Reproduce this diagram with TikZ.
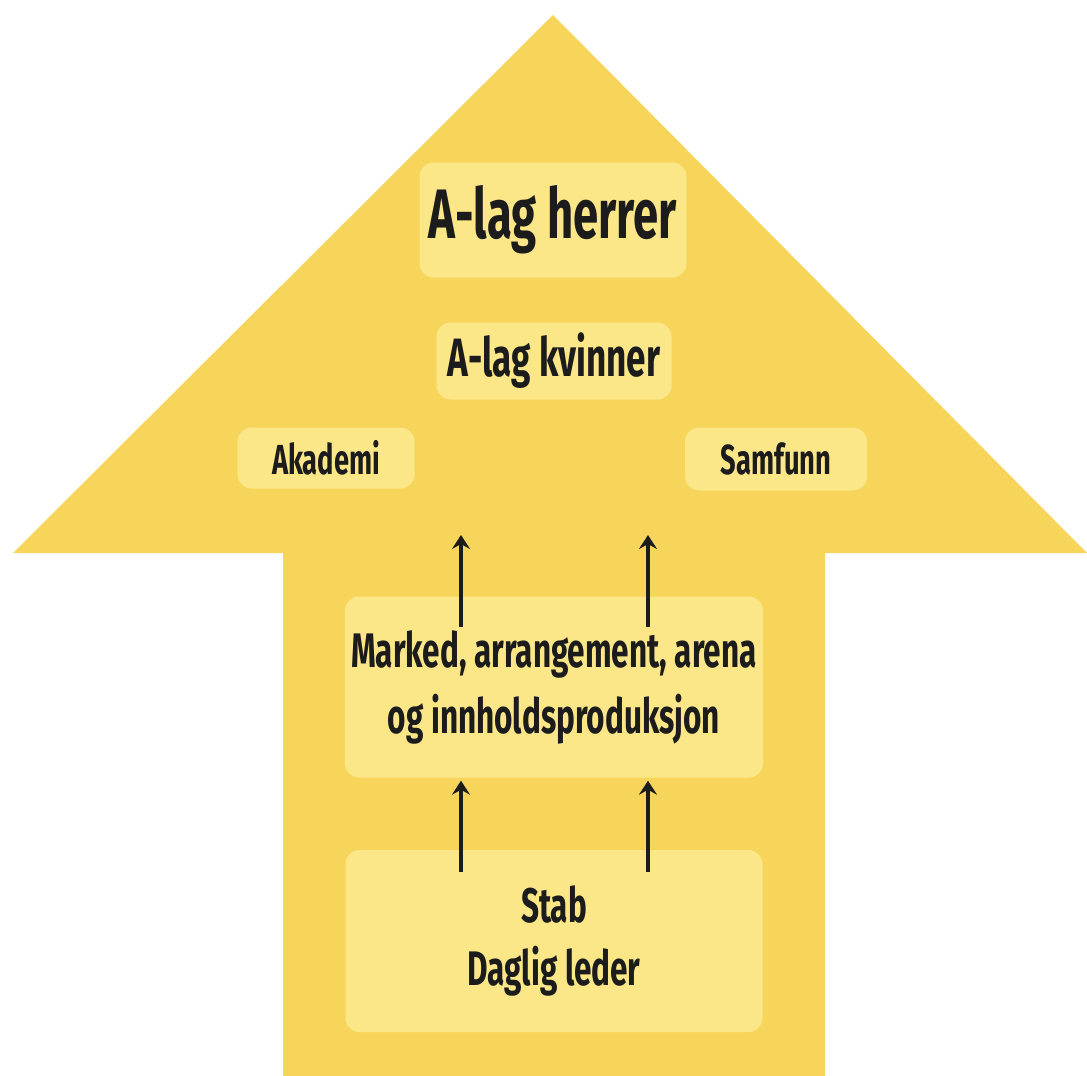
\documentclass[tikz,border=0pt]{standalone}
\usepackage{fontspec}
\setmainfont{Fira Sans}[FakeStretch=0.65]
\usetikzlibrary{arrows.meta, positioning}

\definecolor{arrowyellow}{RGB}{247,213,90}
\definecolor{boxyellow}{RGB}{251,231,135}
\definecolor{ink}{RGB}{28,28,28}

\begin{document}
\begin{tikzpicture}[x=1pt, y=-1pt,
        unit/.style={fill=boxyellow, rounded corners=14pt, text=ink, align=center, inner sep=0pt, font=\bfseries},
        flow/.style={-{Stealth[length=14pt, width=18pt, inset=5pt]}, line width=3.5pt, draw=ink}]
        \useasboundingbox (0,0) rectangle (1087,1076);

        \fill[arrowyellow] (553,15) -- (1087,553) -- (825,553) -- (825,1076)
                -- (283,1076) -- (283,553) -- (13,553) -- cycle;

        \node (herrer) [unit, minimum width=267pt, minimum height=115pt, font=\bfseries\fontsize{70}{75}\selectfont] at (553,220) {A-lag herrer};
        \node (kvinner) [unit, minimum width=235pt, minimum height=77pt, font=\bfseries\fontsize{54}{58}\selectfont] at (554,361) {A-lag kvinner};
        \node (akademi) [unit, minimum width=177pt, minimum height=61pt, font=\bfseries\fontsize{42}{46}\selectfont] at (326,458) {Akademi};
        \node (samfunn) [unit, minimum width=182pt, minimum height=63pt, font=\bfseries\fontsize{42}{46}\selectfont] at (776,459) {Samfunn};
        \node (marked) [unit, minimum width=418pt, minimum height=181pt, font=\bfseries\fontsize{48.5}{66}\selectfont] at (554,687) {Marked, arrangement, arena\\og innholdsproduksjon};
        \node (stab) [unit, minimum width=417pt, minimum height=182pt, font=\bfseries\fontsize{48.5}{63}\selectfont] at (554,941) {Stab\\Daglig leder};

        \coordinate (m1) at (461,627);
        \coordinate (m2) at (648,627);
        \coordinate (t1) at (461,535);
        \coordinate (t2) at (648,535);
        \coordinate (s1) at (461,872);
        \coordinate (s2) at (648,872);

        \draw[flow] (m1) -- (t1);
        \draw[flow] (m2) -- (t2);
        \draw[flow, shorten >=3pt] (s1) -- (s1 |- marked.south);
        \draw[flow, shorten >=3pt] (s2) -- (s2 |- marked.south);

\end{tikzpicture}
\end{document}
